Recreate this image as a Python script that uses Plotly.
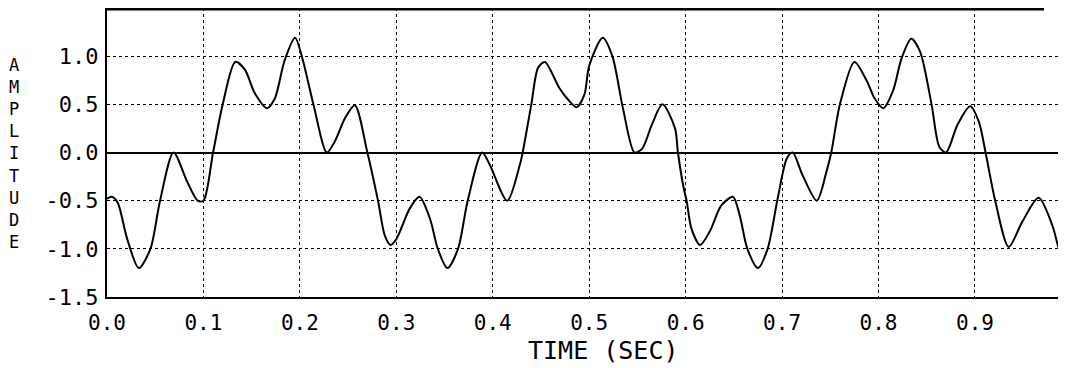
import plotly.graph_objects as go

time_sec = [0.000, 0.005, 0.011, 0.021, 0.033, 0.045, 0.055, 0.069, 0.083, 0.094,
            0.100, 0.110, 0.120, 0.133, 0.143, 0.153, 0.166, 0.174, 0.184, 0.195,
            0.202, 0.214, 0.228, 0.236, 0.247, 0.257, 0.270, 0.281, 0.288, 0.294,
            0.300, 0.314, 0.324, 0.335, 0.343, 0.353, 0.364, 0.374, 0.389, 0.397,
            0.415, 0.428, 0.431, 0.440, 0.447, 0.454, 0.469, 0.478, 0.487, 0.495,
            0.500, 0.514, 0.524, 0.535, 0.547, 0.555, 0.565, 0.576, 0.589, 0.592,
            0.598, 0.601, 0.606, 0.615, 0.625, 0.637, 0.649, 0.656, 0.664, 0.675,
            0.685, 0.695, 0.705, 0.711, 0.721, 0.736, 0.746, 0.751, 0.760, 0.775,
            0.788, 0.796, 0.805, 0.815, 0.824, 0.834, 0.843, 0.855, 0.863, 0.870,
            0.882, 0.895, 0.904, 0.911, 0.921, 0.935, 0.949, 0.966, 0.980, 0.987,
            0.994]
amplitude = [-0.48, -0.46, -0.52, -0.90, -1.20, -1.00, -0.50, 0.00, -0.30, -0.50,
             -0.50, 0.00, 0.50, 0.94, 0.86, 0.62, 0.46, 0.56, 0.95, 1.19,
             1.00, 0.50, 0.00, 0.11, 0.36, 0.49, 0.00, -0.50, -0.86, -0.96,
             -0.90, -0.58, -0.46, -0.69, -1.00, -1.20, -1.00, -0.50, 0.00, -0.13,
             -0.50, -0.13, 0.00, 0.50, 0.88, 0.94, 0.67, 0.55, 0.47, 0.60,
             0.90, 1.19, 1.00, 0.46, 0.00, 0.04, 0.29, 0.50, 0.25, 0.00,
             -0.37, -0.50, -0.79, -0.96, -0.82, -0.55, -0.46, -0.65, -1.00, -1.20,
             -1.00, -0.50, -0.06, 0.00, -0.23, -0.50, -0.20, 0.00, 0.50, 0.94,
             0.74, 0.56, 0.46, 0.64, 0.98, 1.18, 1.05, 0.50, 0.06, 0.00,
             0.29, 0.48, 0.32, 0.00, -0.50, -0.98, -0.72, -0.47, -0.75, -1.00,
             -1.20]

x_ticks = [0.0, 0.1, 0.2, 0.3, 0.4, 0.5, 0.6, 0.7, 0.8, 0.9]
x_tick_labels = ["0.0", "0.1", "0.2", "0.3", "0.4", "0.5", "0.6", "0.7", "0.8", "0.9"]
y_ticks = [-1.5, -1.0, -0.5, 0.0, 0.5, 1.0]
y_tick_labels = ["-1.5", "-1.0", "-0.5", "0.0", "0.5", "1.0"]

FONT = "DejaVu Sans Mono"

fig = go.Figure()
fig.add_trace(go.Scatter(x=time_sec, y=amplitude, mode="lines",
                         line=dict(color="black", width=2, shape="spline", smoothing=0.8),
                         showlegend=False, hoverinfo="skip"))

# page body has an 8px margin, so the figure is sized/offset to compensate
fig.update_layout(
    width=1058, height=360,
    margin=dict(l=99, r=0, t=0, b=71),
    paper_bgcolor="white", plot_bgcolor="white",
    font=dict(family=FONT, color="black", size=22),
    xaxis=dict(range=[0, 0.9944], tickvals=x_ticks, ticktext=x_tick_labels,
               showgrid=True, gridcolor="black", griddash="dot", gridwidth=1,
               showline=True, linecolor="black", linewidth=2, zeroline=False,
               ticks="", ticklabelstandoff=6, tickfont=dict(size=21)),
    yaxis=dict(range=[-1.5, 1.5], tickvals=y_ticks, ticktext=y_tick_labels,
               showgrid=True, gridcolor="black", griddash="dot", gridwidth=1,
               showline=True, linecolor="black", linewidth=2,
               zeroline=True, zerolinecolor="black", zerolinewidth=2,
               ticks="", ticklabelstandoff=2, tickfont=dict(size=22)),
    shapes=[dict(type="line", xref="x", yref="paper", x0=0, x1=0.9716, y0=0.996, y1=0.996,
                 line=dict(color="black", width=2.5))],
    annotations=[
        dict(text="TIME (SEC)", xref="x", yref="paper", x=0.515, y=-0.128,
             xanchor="center", yanchor="top", showarrow=False,
             font=dict(family=FONT, size=25, color="black")),
        dict(text="A<br>M<br>P<br>L<br>I<br>T<br>U<br>D<br>E", xref="paper", yref="paper",
             x=-0.097, y=0.495, xanchor="center", yanchor="middle", showarrow=False,
             font=dict(family=FONT, size=17, color="black")),
    ],
)

fig.write_html("out.html")
